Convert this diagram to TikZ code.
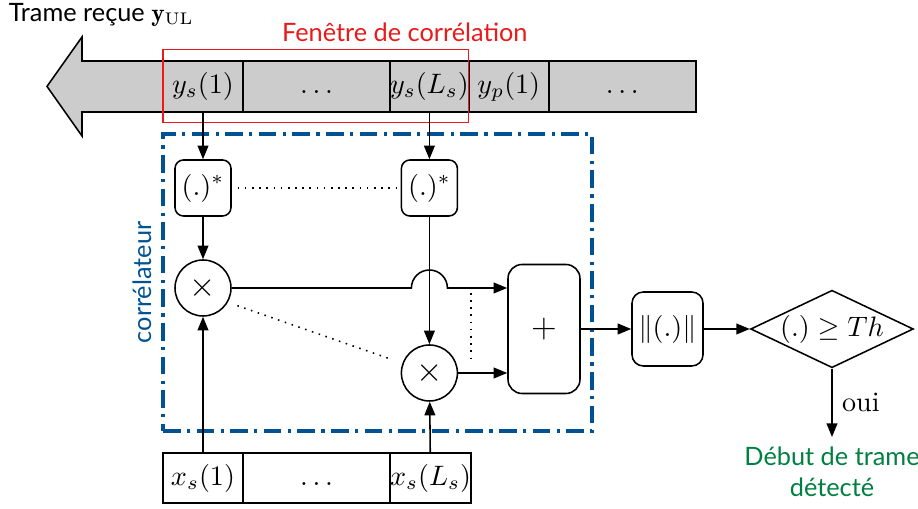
\documentclass[tikz,border=0pt]{standalone}
\usepackage{fontspec}
\setsansfont{Lato}
\usetikzlibrary{
  arrows.meta,
  positioning,
  shapes.geometric,
  fit,
  calc
}
\definecolor{fenetre}{RGB}{235,25,25}
\definecolor{correl}{RGB}{0,82,147}
\definecolor{detecte}{RGB}{0,128,64}

\begin{document}
\begin{tikzpicture}[
  txt/.style={font=\sffamily\small},
  cell/.style={draw, fill=black!20, minimum height=0.6375cm, inner sep=0pt, outer sep=0pt,
               text height=0.75em, text depth=0.25em},
  xcell/.style={cell, fill=white, minimum height=0.625cm},
  conj/.style={draw, rounded corners=3pt, minimum size=0.7cm, inner sep=0pt},
  mult/.style={draw, circle, minimum size=0.7cm, inner sep=0pt, font=\large},
  blk/.style={draw, rounded corners=4pt, inner sep=0pt},
  line width=0.55pt,
  >={Triangle[length=1.7mm, width=1.35mm]}
]
\useasboundingbox (0,0) rectangle (11.475,-6.3625);

% trame recue
\draw[fill=black!20] (8.65,-0.7625) -- (1.025,-0.7625) -- (1.025,-0.4625) -- (0.5875,-1.08)
  -- (1.025,-1.7) -- (1.025,-1.4) -- (8.65,-1.4) -- cycle;
\node[cell, minimum width=1cm] (ys1) at (2.5375,-1.08) {$y_s(1)$};
\node[cell, minimum width=1.8375cm, right=0pt of ys1] (ydots) {$\ldots$};
\node[cell, minimum width=0.9375cm, right=0pt of ydots] (ysL) {$y_s(L_s)$};
\node[cell, minimum width=1cm, right=0pt of ysL] (yp1) {$y_p(1)$};
\node[cell, minimum width=1.8375cm, right=0pt of yp1] (pdots) {$\ldots$};
\node[txt, anchor=base west, inner sep=0pt] (trame) at (0.1,-0.275) {Trame reçue $\mathbf{y}_{\mathrm{UL}}$};

% fenetre
\node[draw=fenetre, line width=0.4pt, fit=(ys1)(ysL), inner xsep=0pt, inner ysep=0.1375cm] (fen) {};
\node[txt, text=fenetre] at (5.06,-0.4) {Fenêtre de corrélation};

% correlateur
\node[draw=correl, line width=1.1pt, dash pattern=on 2.2mm off 0.8mm on 0.4mm off 0.8mm,
      minimum width=5.3625cm, minimum height=3.7125cm] (corr) at (4.719,-3.531) {};
\node[txt, text=correl, rotate=90, anchor=south] at (corr.west) {corrélateur};

\node[conj] (conj1) at (ys1 |- 0,-2.35) {$(.)^*$};
\node[conj] (conj2) at (ysL |- 0,-2.35) {$(.)^*$};
\node[mult] (mult1) at (ys1 |- 0,-3.6) {$\times$};
\node[mult] (mult2) at (ysL |- 0,-4.6625) {$\times$};
\node[blk, rounded corners=5pt, minimum width=0.9cm, minimum height=1.6125cm, font=\large] (sum) at (6.8,-4.1125) {$+$};
\node[blk, minimum width=0.8875cm, minimum height=0.925cm] (norm) at (8.344,-4.1125) {$\|(.)\|$};
\node[draw, diamond, aspect=2.1, inner sep=0pt, minimum width=1.925cm, minimum height=0.925cm] (seuil) at (10.4,-4.1125) {$(.)\geq Th$};
\node[txt, text=detecte, align=center, anchor=north] (detect) at (seuil |- 0,-5.4625) {Début de trame\\détecté};

% sequence locale
\node[xcell, minimum width=1cm] (xs1) at (ys1 |- 0,-5.975) {$x_s(1)$};
\node[xcell, minimum width=1.8375cm, right=0pt of xs1] (xdots) {$\ldots$};
\node[xcell, minimum width=0.9375cm, right=0pt of xdots] (xsL) {$x_s(L_s)$};

\draw[->] (ys1.south) -- (conj1);
\draw[->] (ysL.south) -- (conj2);
\draw[->] (conj1) -- (mult1);
\draw[->] (conj2) -- (mult2);
\draw[->] (xs1) -- (mult1);
\draw[->] (xsL) -- (mult2);
\draw[->] (mult1) -- ($(mult1 -| conj2)+(-0.225,0)$) arc[start angle=180, end angle=0, radius=0.225] -- (mult1 -| sum.west);
\draw[->] (mult2) -- (mult2 -| sum.west);
\draw[->] (sum) -- (norm);
\draw[->] (norm) -- (seuil);
\draw[->] (seuil) -- node[right] {oui} (detect);

\draw[dotted, shorten <=0.075cm, shorten >=0.05cm] (conj1) -- (conj2);
\draw[dotted, shorten <=0.125cm, shorten >=0.125cm] (mult1.-30) -- (mult2.160);
\draw[dotted] ($(mult1 -| sum.west)+(-0.45,-0.0625)$) -- ($(mult2 -| sum.west)+(-0.45,0.1625)$);

\end{tikzpicture}
\end{document}
